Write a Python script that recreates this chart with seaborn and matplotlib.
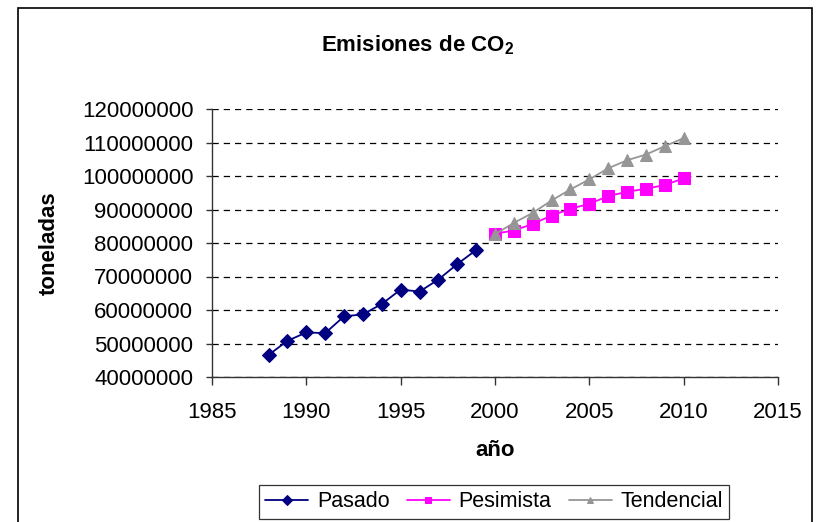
import pandas as pd
import matplotlib.pyplot as plt
import matplotlib.patches as patches
from matplotlib.ticker import FuncFormatter, MultipleLocator
import seaborn as sns

# data (toneladas)
years_past = [1988, 1989, 1990, 1991, 1992, 1993, 1994, 1995, 1996, 1997, 1998, 1999]
pasado = [46600000, 50800000, 53300000, 53100000, 58100000, 58700000,
          61800000, 66100000, 65500000, 69100000, 73700000, 77900000]

years_future = [2000, 2001, 2002, 2003, 2004, 2005, 2006, 2007, 2008, 2009, 2010]
pesimista = [82800000, 83700000, 85700000, 88200000, 90200000, 91700000,
             94000000, 95300000, 96200000, 97300000, 99300000]
tendencial = [82600000, 86000000, 89000000, 92700000, 96000000, 99000000,
              102300000, 104700000, 106400000, 108900000, 111300000]

df_past = pd.DataFrame({"year": years_past, "value": pasado})
df_pes = pd.DataFrame({"year": years_future, "value": pesimista})
df_ten = pd.DataFrame({"year": years_future, "value": tendencial})

sns.set_style("white")
plt.rcParams["font.family"] = ["Liberation Sans", "DejaVu Sans"]
plt.rcParams["mathtext.fontset"] = "custom"
plt.rcParams["mathtext.bf"] = "Liberation Sans:bold"
plt.rcParams["mathtext.rm"] = "Liberation Sans"
plt.rcParams["text.color"] = "black"
plt.rcParams["axes.labelcolor"] = "black"
plt.rcParams["xtick.color"] = "black"
plt.rcParams["ytick.color"] = "black"

fig = plt.figure(figsize=(8.22, 5.22), dpi=100)
ax = fig.add_axes([212 / 822, 1 - 377 / 522, (778 - 212) / 822, (377 - 109) / 522])

sns.lineplot(data=df_past, x="year", y="value", ax=ax, color="#000080",
             marker="D", markersize=7, markeredgecolor="#000080", linewidth=1.3,
             label="Pasado")
sns.lineplot(data=df_pes, x="year", y="value", ax=ax, color="#FF00FF",
             marker="s", markersize=8, markeredgecolor="#FF00FF", linewidth=1.3,
             label="Pesimista")
sns.lineplot(data=df_ten, x="year", y="value", ax=ax, color="#969696",
             marker="^", markersize=8, markeredgecolor="#969696", linewidth=1.3,
             label="Tendencial")

ax.set_xlim(1985, 2015)
ax.set_ylim(40000000, 120000000)
ax.xaxis.set_major_locator(MultipleLocator(5))
ax.yaxis.set_major_locator(MultipleLocator(10000000))
ax.yaxis.set_major_formatter(FuncFormatter(lambda v, p: f"{int(round(v))}"))

ax.yaxis.grid(True, color="black", linestyle=(0, (5, 4)), linewidth=0.9)
ax.xaxis.grid(False)
for s in ["top", "right"]:
    ax.spines[s].set_visible(False)
for s in ["left", "bottom"]:
    ax.spines[s].set_color("#333333")
    ax.spines[s].set_linewidth(1.0)

ax.tick_params(axis="both", direction="out", width=1, color="#333333",
               labelcolor="black", labelsize=16, left=True, bottom=True)
ax.tick_params(axis="x", length=6, pad=12)
ax.tick_params(axis="y", length=4.5, pad=9)

ax.set_xlabel("año", fontsize=16, fontweight="bold", labelpad=12)
ax.set_ylabel("toneladas", fontsize=16, fontweight="bold", labelpad=16)

fig.text(418 / 822, 1 - 45 / 522, r"Emisiones de CO$_\mathbf{2}$",
         ha="center", va="center", fontsize=16, fontweight="bold")

ax.get_legend().remove()
handles, labels = ax.get_legend_handles_labels()
leg = fig.legend(handles, labels, loc="upper center", ncol=3,
                 bbox_to_anchor=(494 / 822, 1 - 485 / 522), fontsize=15.5,
                 frameon=True, fancybox=False, edgecolor="black",
                 handlelength=2.0, handletextpad=0.4, columnspacing=0.8,
                 borderpad=0.3, borderaxespad=0)
leg.get_frame().set_linewidth(0.9)
for h in leg.legend_handles:
    h.set_markersize(5)

# outer chart frame
fig.patches.append(patches.Rectangle((18 / 822, -0.1), (812 - 18) / 822, 1.1 - 8 / 522,
                                     transform=fig.transFigure, fill=False,
                                     edgecolor="black", linewidth=1.2))

plt.savefig("out.png", dpi=100)
